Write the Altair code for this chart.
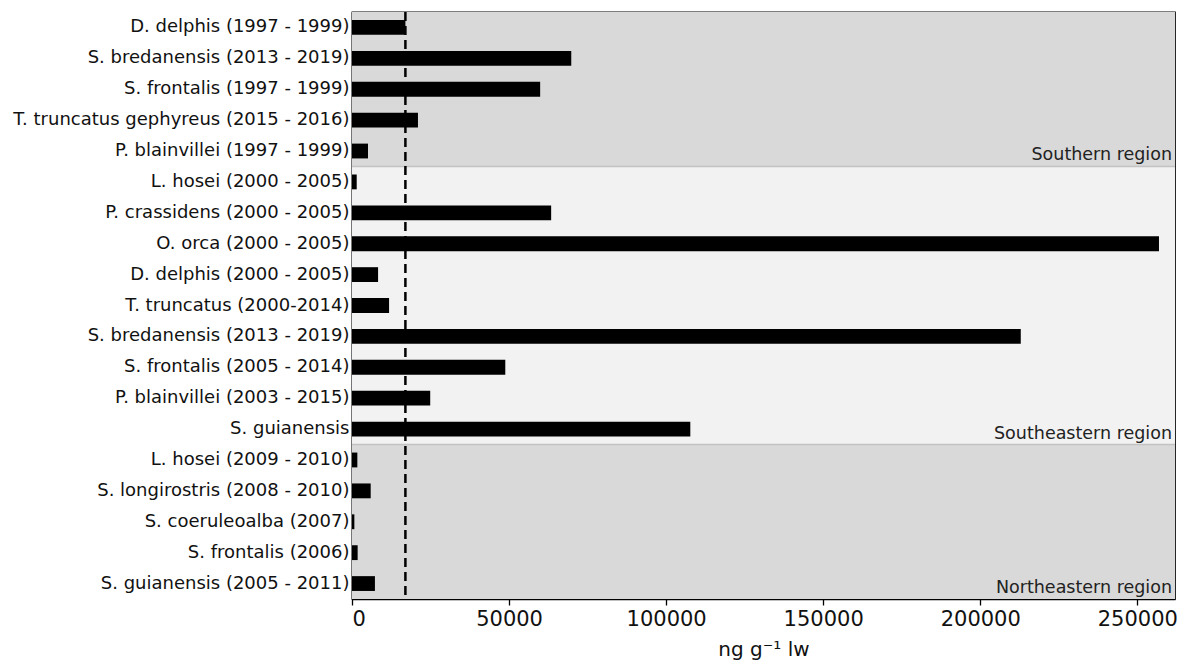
import json
import altair as alt
import pandas as pd

labels = [
    "D. delphis (1997 - 1999)",
    "S. bredanensis (2013 - 2019)",
    "S. frontalis (1997 - 1999)",
    "T. truncatus gephyreus (2015 - 2016)",
    "P. blainvillei (1997 - 1999)",
    "L. hosei (2000 - 2005)",
    "P. crassidens (2000 - 2005)",
    "O. orca (2000 - 2005)",
    "D. delphis (2000 - 2005)",
    "T. truncatus (2000-2014)",
    "S. bredanensis (2013 - 2019)",
    "S. frontalis (2005 - 2014)",
    "P. blainvillei (2003 - 2015)",
    "S. guianensis",
    "L. hosei (2009 - 2010)",
    "S. longirostris (2008 - 2010)",
    "S. coeruleoalba (2007)",
    "S. frontalis (2006)",
    "S. guianensis (2005 - 2011)",
]
values = [
    17000, 69800, 59900, 21000, 5100,
    1500, 63400, 256900, 8300, 11800, 212900, 48800, 24900, 107700,
    1700, 5950, 750, 1800, 7300,
]

regions = ["Southern region", "Southeastern region", "Northeastern region"]
region_start = [-0.5, 4.5, 13.5]
region_end = [4.5, 13.5, 18.5]
region_colors = ["#d9d9d9", "#f2f2f2", "#d9d9d9"]
boundaries = [4.5, 13.5]
threshold = 17000
x_max = 262000
x_ticks = [0, 50000, 100000, 150000, 200000, 250000]

FONT = "DejaVu Sans"

bars_df = pd.DataFrame({"idx": list(range(len(labels))), "label": labels, "value": values})
reg_df = pd.DataFrame({
    "region": regions, "y0": region_start, "y1": region_end,
    "color": region_colors, "xr": [x_max] * 3, "x0": [0] * 3,
})
bnd_df = pd.DataFrame({"b": boundaries})
thr_df = pd.DataFrame({"t": [threshold]})

xscale = alt.Scale(domain=[0, x_max], nice=False, zero=True)
lin_y = alt.Scale(domain=[-0.5, len(labels) - 0.5], reverse=True, nice=False, zero=False)

label_expr = "[" + ",".join(json.dumps(l) for l in labels) + "][datum.value]"

bg = alt.Chart(reg_df).mark_rect().encode(
    x=alt.X("x0:Q", scale=xscale),
    x2="xr:Q",
    y=alt.Y("y0:Q", scale=lin_y, axis=None),
    y2="y1:Q",
    color=alt.Color("color:N", scale=None),
)

bnd = alt.Chart(bnd_df).mark_rule(color="#c2c2c2", strokeWidth=1.5).encode(
    y=alt.Y("b:Q", scale=lin_y, axis=None),
)

bars = alt.Chart(bars_df).mark_bar(color="black").encode(
    x=alt.X(
        "value:Q", scale=xscale,
        axis=alt.Axis(
            title="ng g⁻¹ lw", values=x_ticks, format="d", grid=False,
            labelFontSize=21, titleFontSize=20, tickSize=6, labelPadding=3,
            titlePadding=10, titleFontWeight="normal",
        ),
    ),
    y=alt.Y(
        "idx:O",
        scale=alt.Scale(paddingInner=0.52, paddingOuter=0.26),
        axis=alt.Axis(
            title=None, labelExpr=label_expr, labelFontSize=18, tickSize=0,
            labelPadding=3, grid=False, labelLimit=400,
        ),
    ),
)

thr = alt.Chart(thr_df).mark_rule(color="black", strokeWidth=2.5, strokeDash=[9, 5]).encode(
    x=alt.X("t:Q", scale=xscale),
)

txt = alt.Chart(reg_df).mark_text(
    align="right", baseline="bottom", dx=-3, dy=-2, fontSize=17.5, color="#222222", font=FONT,
).encode(
    x=alt.X("xr:Q", scale=xscale),
    y=alt.Y("y1:Q", scale=lin_y, axis=None),
    text="region:N",
)

chart = alt.layer(bg, bnd, bars, thr, txt).resolve_scale(y="independent").properties(
    width=823, height=587,
    autosize=alt.AutoSizeParams(type="none"),
    padding={"left": 344, "top": 4, "right": 6, "bottom": 61},
).configure_view(
    stroke="black", strokeWidth=1.3,
).configure_axis(
    labelFont=FONT, titleFont=FONT, labelColor="#111111", titleColor="#111111",
    domainColor="black", domainWidth=1.3, tickColor="black", tickWidth=1.3,
)

chart.save("out.html", embed_options={"renderer": "svg", "actions": False})
